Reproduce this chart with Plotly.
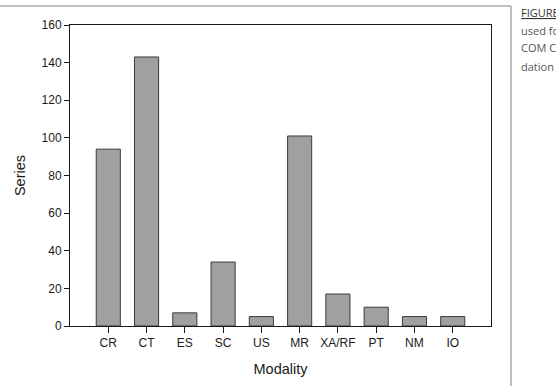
import plotly.graph_objects as go

categories = ["CR", "CT", "ES", "SC", "US", "MR", "XA/RF", "PT", "NM", "IO"]
series_values = [94, 143, 7, 34, 5, 101, 17, 10, 5, 5]
y_ticks = [0, 20, 40, 60, 80, 100, 120, 140, 160]
side_lines = ["<u>FIGURE 1</u>", "used for", "COM C", "dation"]

W, H = 556, 386
L, R, T, B = 70, 491, 25, 326  # plot area pixels


def px_x(px):
    return (px - L) / (R - L)


def px_y(py):
    return (B - py) / (B - T)


fig = go.Figure()
fig.add_trace(go.Bar(
    x=list(range(len(categories))),
    y=series_values,
    width=0.63,
    marker=dict(color="#a0a0a0", line=dict(color="#3a3a3a", width=1)),
    showlegend=False,
))

fam = "Liberation Sans, Arial, sans-serif"

fig.update_layout(
    width=W, height=H,
    margin=dict(l=L, r=W - R, t=T, b=H - B),
    paper_bgcolor="white", plot_bgcolor="white",
    font=dict(family=fam, size=12, color="#1a1a1a"),
    xaxis=dict(
        range=[-1, 10],
        tickmode="array",
        tickvals=list(range(len(categories))),
        ticktext=categories,
        ticks="outside", ticklen=6, tickcolor="#1a1a1a",
        showline=True, linecolor="#1a1a1a", linewidth=1, mirror=True,
        showgrid=False, zeroline=False,
        title=dict(text="Modality", font=dict(size=14.5, family=fam), standoff=14),
    ),
    yaxis=dict(
        range=[0, 160],
        tickmode="array",
        tickvals=y_ticks,
        ticks="outside", ticklen=5, tickcolor="#1a1a1a",
        showline=True, linecolor="#1a1a1a", linewidth=1, mirror=True,
        showgrid=False, zeroline=False,
        title=dict(text="Series", font=dict(size=14.5, family=fam), standoff=12),
    ),
    shapes=[
        dict(type="line", xref="paper", yref="paper",
             x0=px_x(0), x1=px_x(511), y0=px_y(6), y1=px_y(6),
             line=dict(color="#aaaaaa", width=1.5)),
        dict(type="line", xref="paper", yref="paper",
             x0=px_x(511), x1=px_x(511), y0=px_y(6), y1=px_y(386),
             line=dict(color="#aaaaaa", width=1.5)),
    ],
)

ys = [13, 30, 48, 66]
for txt, yy in zip(side_lines, ys):
    fig.add_annotation(
        text=txt, xref="paper", yref="paper",
        x=px_x(519), y=px_y(yy), xanchor="left", yanchor="middle",
        showarrow=False,
        font=dict(family="Open Sans, DejaVu Sans, sans-serif", size=11,
                  color="#333" if yy == 13 else "#555"),
    )

fig.write_html("out.html")
